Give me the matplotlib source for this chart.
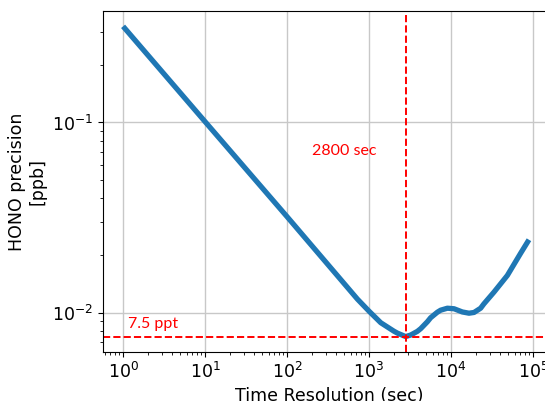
import matplotlib
matplotlib.use("Agg")
import matplotlib.pyplot as plt
import numpy as np

# values
t_sec = [1, 10, 100, 545, 722, 1000, 1390, 2018, 2220, 2800, 3225, 3890,
         4270, 5150, 5650, 6820, 7480, 9040, 10900, 13770, 16600, 19100,
         23000, 25200, 33400, 48700, 70800, 89400]
precision_ppb = [0.32, 0.101, 0.0320, 0.0136, 0.0118, 0.0102, 0.00887,
                 0.0080, 0.00782, 0.0075, 0.00764, 0.00799, 0.00825,
                 0.00897, 0.00942, 0.01007, 0.01032, 0.01057, 0.0105,
                 0.0101, 0.00995, 0.01004, 0.01057, 0.01114, 0.01283,
                 0.01571, 0.02056, 0.0242]
t_opt = 2800
best_ppb = 0.0075

fig = plt.figure(figsize=(5.45, 4.01), dpi=100)
ax = fig.add_axes([0.189, 0.122, 0.831, 0.851])

ax.plot(t_sec, precision_ppb, color="#1f77b4", lw=3.8,
        solid_joinstyle="round", solid_capstyle="butt")
ax.set_xscale("log")
ax.set_yscale("log")
ax.set_xlim(10 ** -0.245, 10 ** 5.28)
ax.axvline(t_opt, color="red", ls="--", lw=1.4)
ax.axhline(best_ppb, color="red", ls="--", lw=1.4)
ax.grid(True, which="major", color="#c8c8c8", lw=1)

ax.text(1230, 0.0706, "2800 sec", color="red", fontsize=11.5, family="Lato",
        ha="right", va="center")
ax.text(1.15, 0.0080, "7.5 ppt", color="red", fontsize=11.5, family="Lato",
        ha="left", va="bottom")

ax.set_xlabel("Time Resolution (sec)", fontsize=12.5)
ax.set_ylabel("HONO precision\n[ppb]", fontsize=12.5)
ax.tick_params(labelsize=12.5)

fig.savefig("out.png", dpi=100)
